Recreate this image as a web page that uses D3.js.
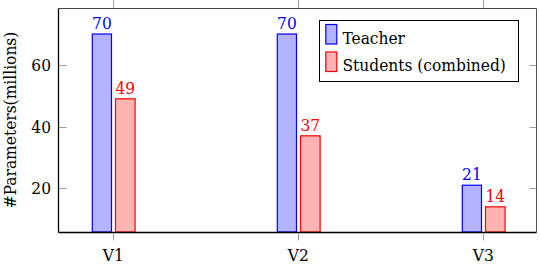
<!DOCTYPE html>
<html><head><meta charset="utf-8">
<script src="https://cdn.jsdelivr.net/npm/d3@7"></script>
<style>body{margin:0;background:#fff}svg{display:block}svg text{font-family:"DejaVu Serif";font-stretch:condensed}</style>
</head><body><svg id="c" width="540" height="264"></svg>
<script>
const categories = ["V1","V2","V3"];
const teacher = [70,70,21];
const students = [49,37,14];
const seriesNames = ["Teacher","Students (combined)"];
const yTicks = [20,40,60];

const FS = 17.2;
const svg = d3.select("#c");
const L=58.5, R=536.5, T=8.5, B=232.5;
const x = d3.scalePoint().domain(categories).range([113.3,483.3]);
const y = d3.scaleLinear().domain([5.84,78.43]).range([232,8]);
const series = [
  {name:seriesNames[0], values:teacher, fill:"#b3b3ff", stroke:"#0000ff", off:-21, w:19.2},
  {name:seriesNames[1], values:students, fill:"#ffb3b3", stroke:"#ff0000", off:2.2, w:19.6}
];
const tickCol="#a0a0a0";
svg.append("g").selectAll("line").data(categories).join("line")
  .attr("x1",d=>Math.round(x(d))+0.5).attr("x2",d=>Math.round(x(d))+0.5).attr("y1",B).attr("y2",B+8).attr("stroke",tickCol);
svg.append("g").selectAll("line").data(categories).join("line")
  .attr("x1",d=>Math.round(x(d))+0.5).attr("x2",d=>Math.round(x(d))+0.5).attr("y1",0).attr("y2",T).attr("stroke",tickCol);
svg.append("g").selectAll("line").data(yTicks).join("line")
  .attr("x1",L).attr("x2",L+8).attr("y1",d=>Math.round(y(d))+0.5).attr("y2",d=>Math.round(y(d))+0.5).attr("stroke",tickCol);
svg.append("g").selectAll("line").data(yTicks).join("line")
  .attr("x1",R-7).attr("x2",R).attr("y1",d=>Math.round(y(d))+0.5).attr("y2",d=>Math.round(y(d))+0.5).attr("stroke",tickCol);
series.forEach(s=>{
  const g=svg.append("g");
  g.selectAll("rect").data(categories).join("rect")
    .attr("x",(d)=>x(d)+s.off).attr("width",s.w)
    .attr("y",(d,i)=>y(s.values[i])).attr("height",(d,i)=>y.range()[0]-y(s.values[i]))
    .attr("fill",s.fill).attr("stroke",s.stroke).attr("stroke-width",1.2);
  g.selectAll("text").data(categories).join("text")
    .attr("x",d=>x(d)+s.off+s.w/2).attr("y",(d,i)=>y(s.values[i])-5)
    .attr("text-anchor","middle").attr("font-size",FS).attr("fill",s.stroke)
    .text((d,i)=>s.values[i]);
});
svg.append("line").attr("x1",L).attr("x2",R).attr("y1",T).attr("y2",T).attr("stroke","#444");
svg.append("line").attr("x1",R).attr("x2",R).attr("y1",T).attr("y2",B).attr("stroke","#555");
svg.append("line").attr("x1",L).attr("x2",L).attr("y1",T).attr("y2",B).attr("stroke","#000").attr("stroke-width",1.3);
svg.append("line").attr("x1",L).attr("x2",R).attr("y1",B).attr("y2",B).attr("stroke","#000").attr("stroke-width",1.3);
svg.append("g").selectAll("text").data(yTicks).join("text")
  .attr("x",51).attr("y",d=>y(d)+6).attr("text-anchor","end").attr("font-size",FS).text(d=>d);
svg.append("g").selectAll("text").data(categories).join("text")
  .attr("x",d=>x(d)).attr("y",261).attr("text-anchor","middle").attr("font-size",FS).text(d=>d);
svg.append("text").attr("transform","translate(16,120) rotate(-90)").attr("text-anchor","middle")
  .attr("font-size",FS).text("#Parameters(millions)");
const lg=svg.append("g");
lg.append("rect").attr("x",319.5).attr("y",20.5).attr("width",199).attr("height",61).attr("fill","#fff").attr("stroke","#000");
series.forEach((s,i)=>{
  lg.append("rect").attr("x",325.8).attr("y",24.5+i*27.5).attr("width",11).attr("height",19.5)
    .attr("fill",s.fill).attr("stroke",s.stroke).attr("stroke-width",1.2);
  lg.append("text").attr("x",342.5).attr("y",43.5+i*27.5).attr("font-size",FS).text(s.name);
});
</script></body></html>
